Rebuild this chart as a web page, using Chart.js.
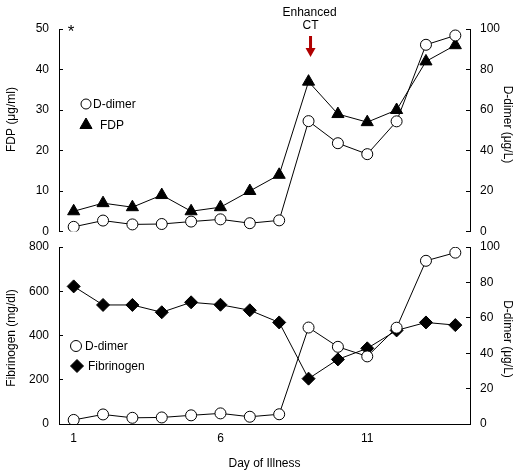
<!DOCTYPE html>
<html>
<head>
<meta charset="utf-8">
<style>
  html, body { margin:0; padding:0; background:#fff; }
  #wrap { position:relative; width:528px; height:476px; }
  #wrap canvas { position:absolute; left:0; top:0; }
</style>
<script src="https://cdn.jsdelivr.net/npm/chart.js@4.4.1/dist/chart.umd.min.js"></script>
</head>
<body>
<div id="wrap">
  <canvas id="graph_top" width="528" height="476"></canvas>
  <canvas id="graph_bottom" width="528" height="476"></canvas>
</div>
<script>
// Day of illness (categories)
const days        = ['1','2','3','4','5','6','7','8','9','10','11','12','13','14'];
const dayLabels   = ['1','6','11'];
// D-dimer (ug/L), right axis in both panels
const dDimer      = [2.3, 5.4, 3.5, 3.7, 4.9, 6.0, 4.1, 5.5, 54.5, 43.6, 38.2, 54.4, 92.2, 96.8];
// FDP (ug/ml), top panel left axis
const fdp         = [5, 7, 6, 9, 5, 6, 10, 14, 37, 29, 27, 30, 42, 46];
// Fibrinogen (mg/dl), bottom panel left axis
const fibrinogen  = [622, 538, 538, 505, 550, 539, 514, 459, 205, 292, 342, 423, 459, 447];
const ctDay       = 8;   // index of day 9, the enhanced CT

Chart.defaults.font.family = '"Liberation Sans", Arial, sans-serif';
Chart.defaults.font.size   = 12;
Chart.defaults.color       = '#000';
Chart.defaults.animation   = false;

const FONT = '12px "Liberation Sans", Arial, sans-serif';

function yAxis(position, max, step, width) {
  return {
    position, min: 0, max,
    ticks:  {stepSize: step, padding: 14, color: '#000'},
    grid:   {drawOnChartArea: false, drawTicks: true, tickLength: -4, color: '#000', lineWidth: 1},
    border: {display: true, color: '#000', width: 1},
    afterFit: s => { s.width = width; },
  };
}

function dimerSet() {
  return {
    label: 'D-dimer', data: dDimer, yAxisID: 'y1',
    borderColor: '#000', borderWidth: 1, tension: 0,
    pointStyle: 'circle', pointRadius: 5.5,
    pointBackgroundColor: '#fff', pointBorderColor: '#000', pointBorderWidth: 1,
  };
}

function key(ctx, style, r, fill, x, y, text, tx) {
  ctx.save();
  ctx.fillStyle = fill; ctx.strokeStyle = '#000'; ctx.lineWidth = 1;
  Chart.helpers.drawPoint(ctx, {pointStyle: style, radius: r, borderWidth: 1, rotation: 0}, x, y);
  ctx.fillStyle = '#000'; ctx.font = FONT;
  ctx.textAlign = 'left'; ctx.textBaseline = 'middle';
  ctx.fillText(text, tx, y + 1);
  ctx.restore();
}

function sideTitle(ctx, text, x, y, rot) {
  ctx.save();
  ctx.translate(x, y); ctx.rotate(rot);
  ctx.font = FONT; ctx.fillStyle = '#000';
  ctx.textAlign = 'center'; ctx.textBaseline = 'middle';
  ctx.fillText(text, 0, 0);
  ctx.restore();
}

// top panel extras: CT arrow, asterisk, legend, axis titles
const topExtras = {
  id: 'topExtras',
  afterDraw(chart) {
    const ctx = chart.ctx;
    const x   = chart.scales.x.getPixelForValue(ctDay) + 2;
    ctx.save();
    ctx.font = FONT; ctx.fillStyle = '#000';
    ctx.textAlign = 'center'; ctx.textBaseline = 'middle';
    ctx.fillText('Enhanced', x - 1, 12.5);
    ctx.fillText('CT', x, 26);
    // red arrow
    ctx.fillStyle = '#b00000';
    ctx.fillRect(x - 1.5, 36, 3, 13);
    ctx.beginPath();
    ctx.moveTo(x - 5, 48); ctx.lineTo(x + 5, 48); ctx.lineTo(x, 57);
    ctx.closePath(); ctx.fill();
    // asterisk
    ctx.fillStyle = '#000';
    ctx.font = '17px "Liberation Sans", Arial, sans-serif';
    ctx.textBaseline = 'alphabetic';
    ctx.fillText('*', 71, 37);
    ctx.restore();

    key(ctx, 'circle', 5, '#fff', 86, 104, 'D-dimer', 93);
    key(ctx, 'triangle', 7, '#000', 86, 125, 'FDP', 100);

    sideTitle(ctx, 'FDP (\u03bcg/ml)', 12, 119.5, -Math.PI / 2);
    sideTitle(ctx, 'D-dimer (\u03bcg/L)', 507.5, 124.5, Math.PI / 2);
  },
};

const bottomExtras = {
  id: 'bottomExtras',
  afterDraw(chart) {
    const ctx = chart.ctx;
    key(ctx, 'circle', 5.5, '#fff', 76, 346, 'D-dimer', 85);
    key(ctx, 'rectRot', 6.5, '#000', 77, 366, 'Fibrinogen', 88);
    sideTitle(ctx, 'Fibrinogen (mg/dl)', 12, 338, -Math.PI / 2);
    sideTitle(ctx, 'D-dimer (\u03bcg/L)', 507.5, 339, Math.PI / 2);
  },
};

const chart_top = new Chart(graph_top, {
  type: 'line',
  data: {
    labels: days,
    datasets: [
      dimerSet(),
      {
        label: 'FDP', data: fdp, yAxisID: 'y',
        borderColor: '#000', borderWidth: 1, tension: 0,
        pointStyle: 'triangle', pointRadius: 7,
        pointBackgroundColor: '#000', pointBorderColor: '#000', pointBorderWidth: 1,
      },
    ],
  },
  options: {
    responsive: false,
    layout: {padding: {top: 29, bottom: 476 - 231.5, left: 0, right: 0}},
    scales: {
      x:  {type: 'category', offset: true, display: false},
      y:  yAxis('left', 50, 10, 59),
      y1: yAxis('right', 100, 20, 58),
    },
    plugins: {legend: {display: false}, tooltip: {enabled: false}},
  },
  plugins: [topExtras],
});

const chart_bottom = new Chart(graph_bottom, {
  type: 'line',
  data: {
    labels: days,
    datasets: [
      dimerSet(),
      {
        label: 'Fibrinogen', data: fibrinogen, yAxisID: 'y',
        borderColor: '#000', borderWidth: 1, tension: 0,
        pointStyle: 'rectRot', pointRadius: 6.5,
        pointBackgroundColor: '#000', pointBorderColor: '#000', pointBorderWidth: 1,
      },
    ],
  },
  options: {
    responsive: false,
    layout: {padding: {top: 247, bottom: 0, left: 0, right: 0}},
    scales: {
      x: {
        type: 'category', offset: true,
        grid: {display: false, drawTicks: false},
        border: {display: true, color: '#000', width: 1},
        ticks: {
          autoSkip: false, maxRotation: 0, padding: 7,
          callback: (v, i) => dayLabels.includes(days[i]) ? days[i] : '',
        },
        title: {display: true, text: 'Day of Illness', padding: {top: 0, bottom: 5}},
        afterFit: s => { s.height = 52; },
      },
      y:  yAxis('left', 800, 200, 59),
      y1: yAxis('right', 100, 20, 58),
    },
    plugins: {legend: {display: false}, tooltip: {enabled: false}},
  },
  plugins: [bottomExtras],
});
</script>
</body>
</html>
